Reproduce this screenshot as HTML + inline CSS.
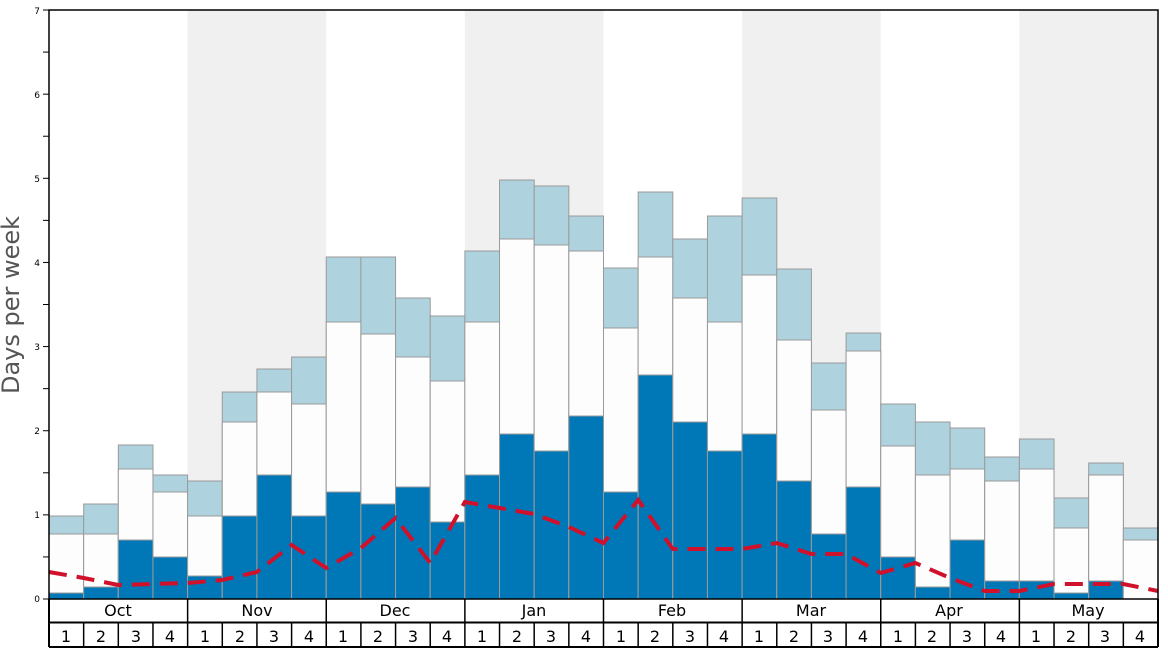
<!DOCTYPE html>
<html><head><meta charset="utf-8"><style>
html,body{margin:0;padding:0;background:#fff;}
svg{display:block;font-family:"DejaVu Sans","Liberation Sans",sans-serif;}
</style></head><body>
<svg id="s" width="1168" height="648" viewBox="0 0 1168 648" xmlns="http://www.w3.org/2000/svg">
<g id="bg"></g><g id="bars"></g>
<polyline id="red" fill="none" stroke="#d0112b" stroke-width="4" stroke-dasharray="18,10"/>
<g id="axes" stroke="#000" fill="none"></g>
<g font-size="9" fill="#000" text-anchor="end">
<text x="40" y="602">0</text><text x="40" y="518">1</text><text x="40" y="434">2</text><text x="40" y="350">3</text><text x="40" y="266">4</text><text x="40" y="182">5</text><text x="40" y="98">6</text><text x="40" y="14">7</text>
</g>
<text transform="translate(19,305) rotate(-90)" font-size="24" fill="#555" text-anchor="middle">Days per week</text>
<g font-size="16" fill="#000" text-anchor="middle">
<text x="118" y="616">Oct</text><text x="257" y="616">Nov</text><text x="395" y="616">Dec</text><text x="534" y="616">Jan</text><text x="672" y="616">Feb</text><text x="811" y="616">Mar</text><text x="949" y="616">Apr</text><text x="1088" y="616">May</text>
</g>
<g id="wk" font-size="16" fill="#000" text-anchor="middle">
<text x="66" y="642">1</text><text x="101" y="642">2</text><text x="136" y="642">3</text><text x="170" y="642">4</text>
<text x="205" y="642">1</text><text x="240" y="642">2</text><text x="274" y="642">3</text><text x="309" y="642">4</text>
<text x="343" y="642">1</text><text x="378" y="642">2</text><text x="413" y="642">3</text><text x="447" y="642">4</text>
<text x="482" y="642">1</text><text x="517" y="642">2</text><text x="551" y="642">3</text><text x="586" y="642">4</text>
<text x="621" y="642">1</text><text x="655" y="642">2</text><text x="690" y="642">3</text><text x="724" y="642">4</text>
<text x="759" y="642">1</text><text x="794" y="642">2</text><text x="828" y="642">3</text><text x="863" y="642">4</text>
<text x="898" y="642">1</text><text x="932" y="642">2</text><text x="967" y="642">3</text><text x="1001" y="642">4</text>
<text x="1036" y="642">1</text><text x="1071" y="642">2</text><text x="1105" y="642">3</text><text x="1140" y="642">4</text>
</g>
</svg>
<script>
const NS="http://www.w3.org/2000/svg";
const X0=49,X1=1158,W=(X1-X0)/32;
function el(p,t,a){const e=document.createElementNS(NS,t);for(const k in a)e.setAttribute(k,a[k]);document.getElementById(p).appendChild(e);return e;}
for(let m=1;m<8;m+=2)el('bg','rect',{x:X0+m*4*W,y:10,width:4*W,height:589,fill:'#f0f0f0'});
const d=[[516,534,593],[504,534,587],[445,469,540],[475,492,557],[481,516,576],[392,422,516],[369,392,475],[357,404,516],
[257,322,492],[257,334,504],[298,357,487],[316,381,522],[251,322,475],[180,239,434],[186,245,451],[216,251,416],
[268,328,492],[192,257,375],[239,298,422],[216,322,451],[198,275,434],[269,340,481],[363,410,534],[333,351,487],
[404,446,557],[422,475,587],[428,469,540],[457,481,581],[439,469,581],[498,528,593],[463,475,581],[528,540,599]];
d.forEach((v,i)=>{const x=X0+i*W;
el('bars','rect',{x:x,y:v[0],width:W,height:599-v[0],fill:'#aed3df',stroke:'#9a9a9a','stroke-width':1});
el('bars','rect',{x:x,y:v[1],width:W,height:599-v[1],fill:'#fdfdfd',stroke:'#9a9a9a','stroke-width':1});
if(v[2]<599)el('bars','rect',{x:x,y:v[2],width:W,height:599-v[2],fill:'#0077b6',stroke:'#9a9a9a','stroke-width':1});});
const r=[572,578,585,584,583,580,572,545,568,548,518,563,502,508,514,527,543,500,549,549,549,543,554,554,573,563,578,591,591,584,584,584,591];
document.getElementById('red').setAttribute('points',r.map((y,i)=>(X0+i*W).toFixed(1)+','+y).join(' '));
el('axes','rect',{x:X0,y:10,width:X1-X0,height:589,'stroke-width':1.5});
el('axes','line',{x1:X0,y1:599,x2:X0,y2:647,'stroke-width':2});
el('axes','line',{x1:X1,y1:599,x2:X1,y2:647,'stroke-width':2});
el('axes','line',{x1:X0,y1:622.5,x2:X1,y2:622.5,'stroke-width':2});
el('axes','line',{x1:X0,y1:647,x2:X1,y2:647,'stroke-width':2});
for(let i=1;i<32;i++){const x=X0+i*W;el('axes','line',{x1:x,y1:(i%4==0?599:622),x2:x,y2:647,'stroke-width':1.5});}
for(let k=0;k<=14;k++){const y=599-k*84.14/2;el('axes','line',{x1:43,y1:y,x2:X0,y2:y,'stroke-width':1});}
</script>
</body></html>
